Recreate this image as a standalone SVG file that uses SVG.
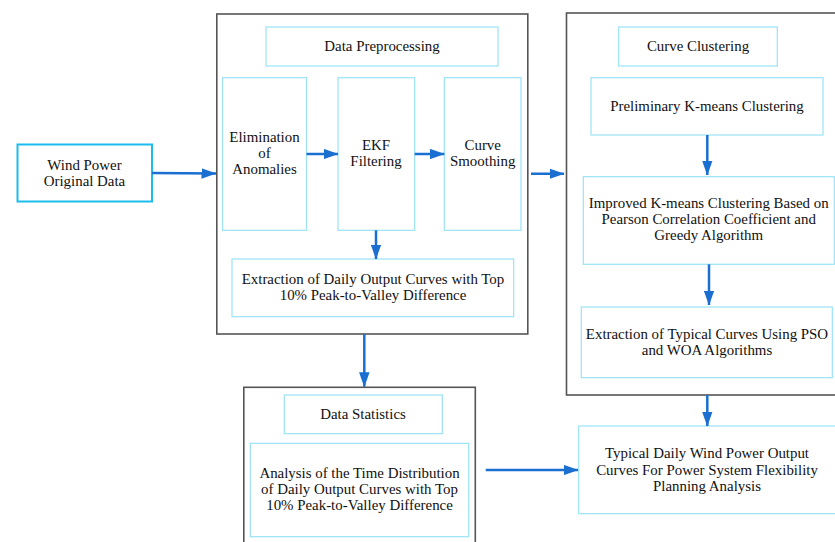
<svg xmlns="http://www.w3.org/2000/svg" width="835" height="542" viewBox="0 0 835 542">
<style>
.outer{fill:none;stroke:#555;stroke-width:1.6}
.inner{fill:#fff;stroke:#9ae3f7;stroke-width:1.2}
.src{fill:#fff;stroke:#1cbcec;stroke-width:2}
text{font-family:"Liberation Serif","Times New Roman",serif;font-size:14.9px;fill:#111;text-anchor:middle}
.conn line{stroke:#1a6fd0;stroke-width:2.5;fill:none}
</style>
<defs>
<marker id="ah" markerWidth="6" markerHeight="4.2" refX="5.8" refY="2.1" orient="auto" markerUnits="strokeWidth">
<path d="M0,0 L6,2.1 L0,4.2 Z" fill="#1a6fd0"/>
</marker>
</defs>
<rect width="835" height="542" fill="#fff"/>
<g id="wind">
<rect class="src" x="17.5" y="144.5" width="134.5" height="57"/>
<text x="84.5" y="170">Wind Power</text>
<text x="84.5" y="186">Original Data</text>
</g>
<g id="preprocessing">
<rect class="outer" x="216.8" y="14" width="311" height="320"/>
<g id="dp-title">
<rect class="inner" x="266" y="27" width="232" height="39"/>
<text x="382" y="51">Data Preprocessing</text>
</g>
<g id="elim">
<rect class="inner" x="222.5" y="77.7" width="84" height="152.6"/>
<text x="264.5" y="142">Elimination</text>
<text x="264.5" y="158">of</text>
<text x="264.5" y="174">Anomalies</text>
</g>
<g id="ekf">
<rect class="inner" x="338" y="77.7" width="76.7" height="152.6"/>
<text x="376" y="150">EKF</text>
<text x="376" y="166">Filtering</text>
</g>
<g id="smooth">
<rect class="inner" x="444.3" y="77.7" width="76.7" height="152.6"/>
<text x="482.7" y="150">Curve</text>
<text x="482.7" y="166">Smoothing</text>
</g>
<g id="extract-top">
<rect class="inner" x="232" y="259" width="281.7" height="57.7"/>
<text x="373" y="284.3">Extraction of Daily Output Curves with Top</text>
<text x="373" y="300.3">10% Peak-to-Valley Difference</text>
</g>
</g>
<g id="clustering">
<rect class="outer" x="566.5" y="13" width="275" height="382"/>
<g id="cc-title">
<rect class="inner" x="618.7" y="27" width="158.6" height="39"/>
<text x="698" y="51">Curve Clustering</text>
</g>
<g id="prelim">
<rect class="inner" x="591" y="77.7" width="232" height="57.3"/>
<text x="707" y="110.5">Preliminary K-means Clustering</text>
</g>
<g id="improved">
<rect class="inner" x="583.3" y="176.7" width="251" height="87.6"/>
<text x="708.7" y="208.3">Improved K-means Clustering Based on</text>
<text x="708.7" y="224.3">Pearson Correlation Coefficient and</text>
<text x="708.7" y="240.3">Greedy Algorithm</text>
</g>
<g id="typical-extract">
<rect class="inner" x="581.3" y="307" width="251" height="70.7"/>
<text x="707" y="338.5">Extraction of Typical Curves Using PSO</text>
<text x="707" y="354.5">and WOA Algorithms</text>
</g>
</g>
<g id="statistics">
<rect class="outer" x="243.8" y="387.3" width="231.5" height="170"/>
<g id="ds-title">
<rect class="inner" x="284.3" y="395" width="158" height="38.7"/>
<text x="363" y="418.5">Data Statistics</text>
</g>
<g id="analysis">
<rect class="inner" x="250.3" y="443.3" width="218.4" height="93.4"/>
<text x="359.5" y="477.7">Analysis of the Time Distribution</text>
<text x="359.5" y="494">of Daily Output Curves with Top</text>
<text x="359.5" y="510.3">10% Peak-to-Valley Difference</text>
</g>
</g>
<g id="typical-daily">
<rect class="inner" x="578.7" y="426" width="270" height="87.7"/>
<text x="707" y="458.3">Typical Daily Wind Power Output</text>
<text x="707" y="474.5">Curves For Power System Flexibility</text>
<text x="707" y="490.5">Planning Analysis</text>
</g>
<g class="conn" id="connectors">
<line x1="152" y1="173" x2="216" y2="173.6" marker-end="url(#ah)"/>
<line x1="306.5" y1="154" x2="338" y2="154" marker-end="url(#ah)"/>
<line x1="414.7" y1="154" x2="444.3" y2="154" marker-end="url(#ah)"/>
<line x1="376" y1="230.3" x2="376" y2="259" marker-end="url(#ah)"/>
<line x1="531" y1="173.7" x2="564" y2="173.7" marker-end="url(#ah)"/>
<line x1="707.3" y1="135" x2="707.3" y2="175" marker-end="url(#ah)"/>
<line x1="709" y1="264.3" x2="709" y2="305" marker-end="url(#ah)"/>
<line x1="707.3" y1="395" x2="707.3" y2="426" marker-end="url(#ah)"/>
<line x1="364.3" y1="334" x2="364.3" y2="386.7" marker-end="url(#ah)"/>
<line x1="485.7" y1="470" x2="578" y2="470" marker-end="url(#ah)"/>
</g>
</svg>
